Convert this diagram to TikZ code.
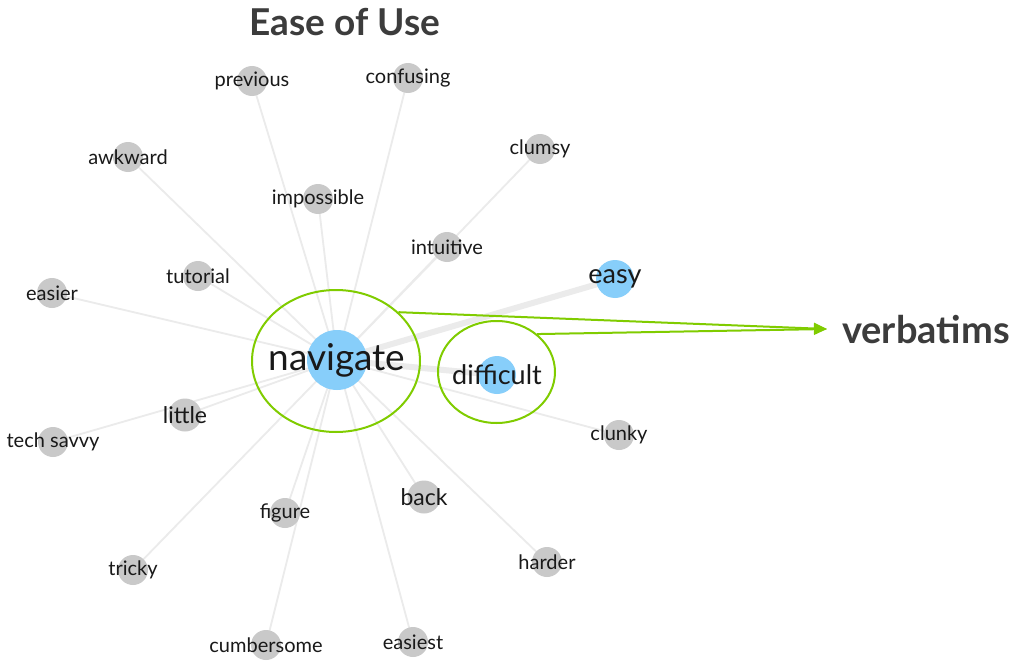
\documentclass[tikz,border=0pt]{standalone}
\usepackage{fontspec}
\setmainfont{Lato}
\usetikzlibrary{backgrounds,arrows.meta,shapes.geometric}
\definecolor{edgegray}{RGB}{235,235,235}
\definecolor{dotgray}{RGB}{201,201,201}
\definecolor{dotblue}{RGB}{135,206,250}
\definecolor{hilite}{RGB}{128,204,0}
\definecolor{titlegray}{RGB}{60,60,60}
\definecolor{wordblack}{RGB}{25,25,25}
\tikzset{
  dot/.style={circle,fill=dotgray,draw=none,minimum size=30pt,inner sep=0pt},
  bigdot/.style={dot,minimum size=33pt},
  bluedot/.style={circle,fill=dotblue,draw=none,inner sep=0pt},
  word/.style={text=wordblack,font=\fontsize{20}{20}\selectfont,inner sep=0pt},
  midword/.style={word,font=\fontsize{23}{23}\selectfont},
  keyword/.style={word,font=\fontsize{27}{27}\selectfont},
  edge/.style={draw=edgegray,line width=1.8pt},
  thickedge/.style={draw=edgegray,line width=6pt},
  ring/.style={ellipse,draw=hilite,line width=2pt,inner sep=0pt},
  pointer/.style={draw=hilite,line width=2pt,-{Triangle[length=13pt,width=11pt]}},
  heading/.style={text=titlegray,font=\bfseries\fontsize{37}{37}\selectfont,inner sep=0pt}
}
\begin{document}
\begin{tikzpicture}[x=1pt,y=-1pt]
\useasboundingbox (0,0) rectangle (1012,661);
% title
\node[heading] (title) at (345,22) {Ease of Use};
% central nodes
\node[bluedot,minimum size=60pt,label={[word,font=\fontsize{37}{37}\selectfont]center:navigate}] (nav) at (337,360) {};
\node[bluedot,minimum size=38pt,label={[keyword]center:difficult}] (dif) at (497,375) {};
\node[bluedot,minimum size=38pt,label={[keyword]center:easy}] (easy) at (615,279) {};
% gray nodes
\node[dot,label={[word]center:previous}] (previous) at (252,81) {};
\node[dot,label={[word]center:confusing}] (confusing) at (408,78) {};
\node[dot,label={[word]center:awkward}] (awkward) at (128,157) {};
\node[dot,label={[word]center:clumsy}] (clumsy) at (540,149) {};
\node[dot,label={[word]center:impossible}] (impossible) at (318,199) {};
\node[dot,label={[word]center:intuitive}] (intuitive) at (447,247) {};
\node[dot,label={[word]center:tutorial}] (tutorial) at (198,276) {};
\node[dot,label={[word]center:easier}] (easier) at (52,293) {};
\node[bigdot,label={[midword]center:little}] (little) at (185,415) {};
\node[dot,label={[word]center:tech savvy}] (techsavvy) at (53,442) {};
\node[dot,label={[word]center:clunky}] (clunky) at (619,435) {};
\node[bigdot,label={[midword]center:back}] (back) at (424,497) {};
\node[dot,label={[word]center:figure}] (figure) at (285,513) {};
\node[dot,label={[word]center:harder}] (harder) at (547,562) {};
\node[dot,label={[word]center:tricky}] (tricky) at (133,570) {};
\node[dot,label={[word]center:cumbersome}] (cumbersome) at (266,645) {};
\node[dot,label={[word]center:easiest}] (easiest) at (413,642) {};
% edges
\begin{scope}[on background layer]
\fill[white] (0,0) rectangle (1012,661);
\draw[thickedge] (nav.center) -- (easy.center);
\draw[thickedge] (nav.center) -- (dif.center);
\foreach \n in {previous,confusing,awkward,clumsy,impossible,intuitive,tutorial,easier,little,techsavvy,clunky,back,figure,harder,tricky,cumbersome,easiest}
  \draw[edge] (nav.center) -- (\n.center);
\end{scope}
% highlight rings and pointers
\node[ring,minimum width=168pt,minimum height=142pt] (navring) at (336,361) {};
\node[ring,minimum width=117pt,minimum height=102pt] (difring) at (496.5,372) {};
\node[heading,anchor=west,font=\bfseries\fontsize{38}{38}\selectfont] (verb) at (842,330) {verbatims};
\coordinate (tip) at (827,329);
\draw[pointer] (navring.38) -- (tip);
\draw[pointer] (difring.43) -- (tip);
\end{tikzpicture}
\end{document}
